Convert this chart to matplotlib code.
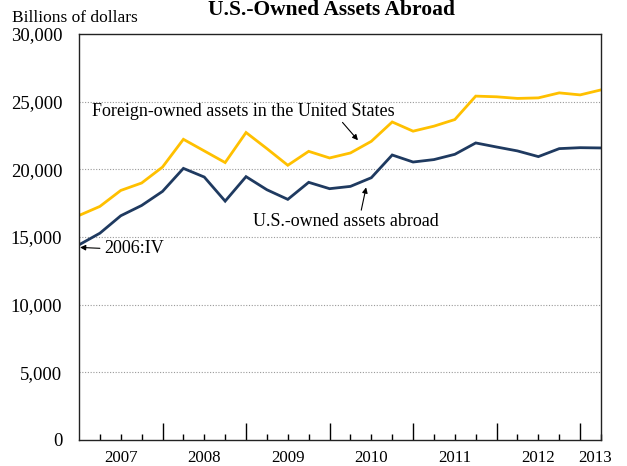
import matplotlib
matplotlib.use("Agg")
import matplotlib.pyplot as plt
from matplotlib.ticker import FixedLocator, FuncFormatter

# quarterly, 2006:IV .. 2013:I
quarters = ["2006:IV",
            "2007:I", "2007:II", "2007:III", "2007:IV",
            "2008:I", "2008:II", "2008:III", "2008:IV",
            "2009:I", "2009:II", "2009:III", "2009:IV",
            "2010:I", "2010:II", "2010:III", "2010:IV",
            "2011:I", "2011:II", "2011:III", "2011:IV",
            "2012:I", "2012:II", "2012:III", "2012:IV",
            "2013:I"]

foreign_owned = [16590, 17260, 18440, 18990, 20170, 22220, 21360, 20500, 22720,
                 21530, 20300, 21330, 20840, 21210, 22070, 23500, 22820, 23190,
                 23680, 25410, 25360, 25240, 25280, 25650, 25500, 25870]
us_owned = [14420, 15280, 16570, 17330, 18370, 20070, 19430, 17650, 19460,
            18490, 17780, 19040, 18570, 18740, 19380, 21060, 20540, 20720,
            21110, 21950, 21650, 21360, 20940, 21530, 21600, 21580]

year_labels = ["2007", "2008", "2009", "2010", "2011", "2012", "2013"]
year_label_pos = [2, 6, 10, 14, 18, 22, 24.7]

plt.rcParams['font.family'] = ['Liberation Serif', 'DejaVu Serif']

fig = plt.figure(figsize=(6.27, 4.66), dpi=100)
ax = fig.add_axes([79 / 627, 1 - 440 / 466, 522 / 627, 406 / 466])

x = list(range(len(quarters)))
ax.plot(x, foreign_owned, color='#FFC000', lw=2.0, solid_joinstyle='miter')
ax.plot(x, us_owned, color='#1F3A60', lw=2.0, solid_joinstyle='miter')

ax.set_xlim(0, len(quarters) - 1)
ax.set_ylim(0, 30000)

# y axis
ax.set_yticks(range(0, 30001, 5000))
ax.yaxis.set_major_formatter(FuncFormatter(lambda v, p: f"{int(v):,}"))
ax.tick_params(axis='y', length=0, labelsize=13.5, pad=12)
for v in range(5000, 30000, 5000):
    ax.axhline(v, color='#999999', lw=0.8, ls=(0, (1, 1.5)), zorder=0)

# x axis: quarter ticks, year boundaries longer
ax.xaxis.set_major_locator(FixedLocator([4, 8, 12, 16, 20, 24]))
ax.xaxis.set_minor_locator(FixedLocator([i for i in x if i % 4 != 0]))
ax.set_xticklabels([])
ax.tick_params(axis='x', which='major', direction='in', length=12, width=1, color='black')
ax.tick_params(axis='x', which='minor', direction='in', length=4.5, width=1, color='black')
for lab, pos in zip(year_labels, year_label_pos):
    ax.text(pos, -0.025, lab, transform=ax.get_xaxis_transform(), ha='center', va='top',
            fontsize=12.2)

for s in ax.spines.values():
    s.set_linewidth(1.0)
    s.set_color('#222222')

# annotations
arrow = dict(arrowstyle='-|>', color='black', lw=0.8, mutation_scale=8, shrinkA=0, shrinkB=0)
ax.annotate("Foreign-owned assets in the United States", xy=(13.36, 22150), xytext=(0.62, 24300),
            fontsize=13, va='center', arrowprops=dict(arrow, relpos=(0.82, 0.0)))
ax.annotate("U.S.-owned assets abroad", xy=(13.75, 18665), xytext=(8.33, 16150),
            fontsize=13, va='center', arrowprops=dict(arrow, relpos=(0.58, 1.0)))
ax.annotate("2006:IV", xy=(0.05, 14230), xytext=(1.2, 14150),
            fontsize=13, va='center', arrowprops=dict(arrow, shrinkA=1, relpos=(0.0, 0.5)))

fig.text(331 / 627, 1 - 10 / 466, "U.S.-Owned Assets Abroad", ha='center', va='center',
         fontsize=15.5, fontweight='bold')
fig.text(12 / 627, 1 - 18 / 466, "Billions of dollars", ha='left', va='center', fontsize=12.5)

fig.savefig("out.png", dpi=100)
